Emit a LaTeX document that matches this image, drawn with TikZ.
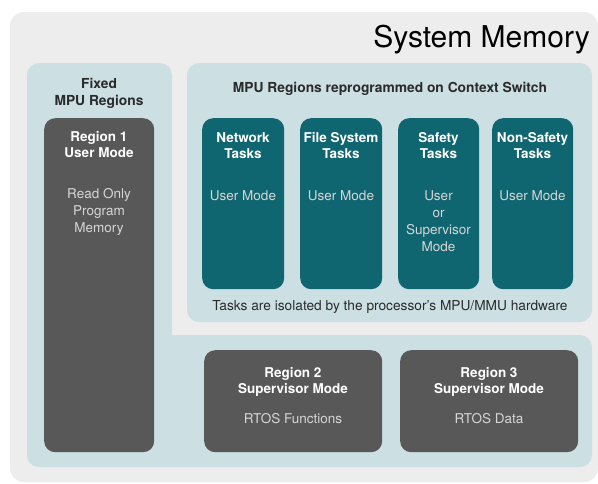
\documentclass[tikz,border=0pt]{standalone}
\usepackage{fontspec}
\setmainfont{TeX Gyre Heros}
\definecolor{panel}{HTML}{EDEDED}
\definecolor{lblue}{HTML}{CCE0E4}
\definecolor{tealbox}{HTML}{0F6670}
\definecolor{dgray}{HTML}{585858}
\definecolor{bodytxt}{HTML}{D6D6D6}
\definecolor{labtxt}{HTML}{2A2A2A}
\tikzset{
  darkbox/.style={fill=dgray, rounded corners=11pt, draw=none},
  tealrect/.style={fill=tealbox, rounded corners=11pt, draw=none},
  boxtitle/.style={text=white, font=\fontsize{13.5}{16}\selectfont\bfseries, align=center, anchor=north, inner sep=0pt},
  boxbody/.style={text=bodytxt, font=\fontsize{13.5}{17}\selectfont, align=center, anchor=north, inner sep=0pt},
  panellabel/.style={text=labtxt, font=\fontsize{13.8}{17}\selectfont\bfseries, align=center, anchor=north, inner sep=0pt},
}
\begin{document}
\begin{tikzpicture}[x=1pt,y=-1pt]
\useasboundingbox (0,0) rectangle (598,483);
\fill[white] (0,0) rectangle (598,483);
\fill[panel, rounded corners=14pt] (10,12) rectangle (598,482);
\node[anchor=base east, text=black, font=\fontsize{30}{34}\selectfont, inner sep=0pt] (title) at (590,47) {System Memory};
% light blue L-shaped area
\fill[lblue, rounded corners=12pt] (27,63) rectangle (172,467);
\fill[lblue, rounded corners=12pt] (27,335) rectangle (592,467);
\fill[lblue, rounded corners=12pt] (187,63) rectangle (592,322);
\node[panellabel] (fixed) at (99,78) {Fixed\\MPU Regions};
\node[panellabel] (mpu) at (390,82) {MPU Regions reprogrammed on Context Switch};
% Region 1
\node[darkbox, minimum width=110pt, minimum height=334pt, anchor=north west] (r1) at (44,118) {};
\node[boxtitle] (r1t) at (99,130.8) {Region 1\\User Mode};
\node[boxbody] (r1b) at (99,188.3) {Read Only\\Program\\Memory};
% task boxes
\node[tealrect, minimum width=82pt, minimum height=171pt, anchor=north west] (net) at (202,118) {};
\node[tealrect, minimum width=82pt, minimum height=171pt, anchor=north west] (fs) at (300,118) {};
\node[tealrect, minimum width=81pt, minimum height=171pt, anchor=north west] (saf) at (398,118) {};
\node[tealrect, minimum width=81pt, minimum height=171pt, anchor=north west] (nsaf) at (492,118) {};
\node[boxtitle] (nett) at (243,132.3) {Network\\Tasks};
\node[boxtitle] (fst) at (341,132.3) {File System\\Tasks};
\node[boxtitle] (saft) at (438.5,132.3) {Safety\\Tasks};
\node[boxtitle] (nsaft) at (532.5,132.3) {Non-Safety\\Tasks};
\node[boxbody] (netb) at (243,190.3) {User Mode};
\node[boxbody] (fsb) at (341,190.3) {User Mode};
\node[boxbody] (safb) at (438.5,190.3) {User\\or\\Supervisor\\Mode};
\node[boxbody] (nsafb) at (532.5,190.3) {User Mode};
\node[text=labtxt, font=\fontsize{13.7}{16}\selectfont, anchor=north, inner sep=0pt] (iso) at (390,300) {Tasks are isolated by the processor's MPU/MMU hardware};
% Region 2 and 3
\node[darkbox, minimum width=178pt, minimum height=102pt, anchor=north west] (r2) at (204,350) {};
\node[darkbox, minimum width=178pt, minimum height=102pt, anchor=north west] (r3) at (400,350) {};
\node[boxtitle] (r2t) at (293,367.3) {Region 2\\Supervisor Mode};
\node[boxtitle] (r3t) at (489,367.3) {Region 3\\Supervisor Mode};
\node[boxbody] (r2b) at (293,413.3) {RTOS Functions};
\node[boxbody] (r3b) at (489,413.3) {RTOS Data};
\end{tikzpicture}
\end{document}
